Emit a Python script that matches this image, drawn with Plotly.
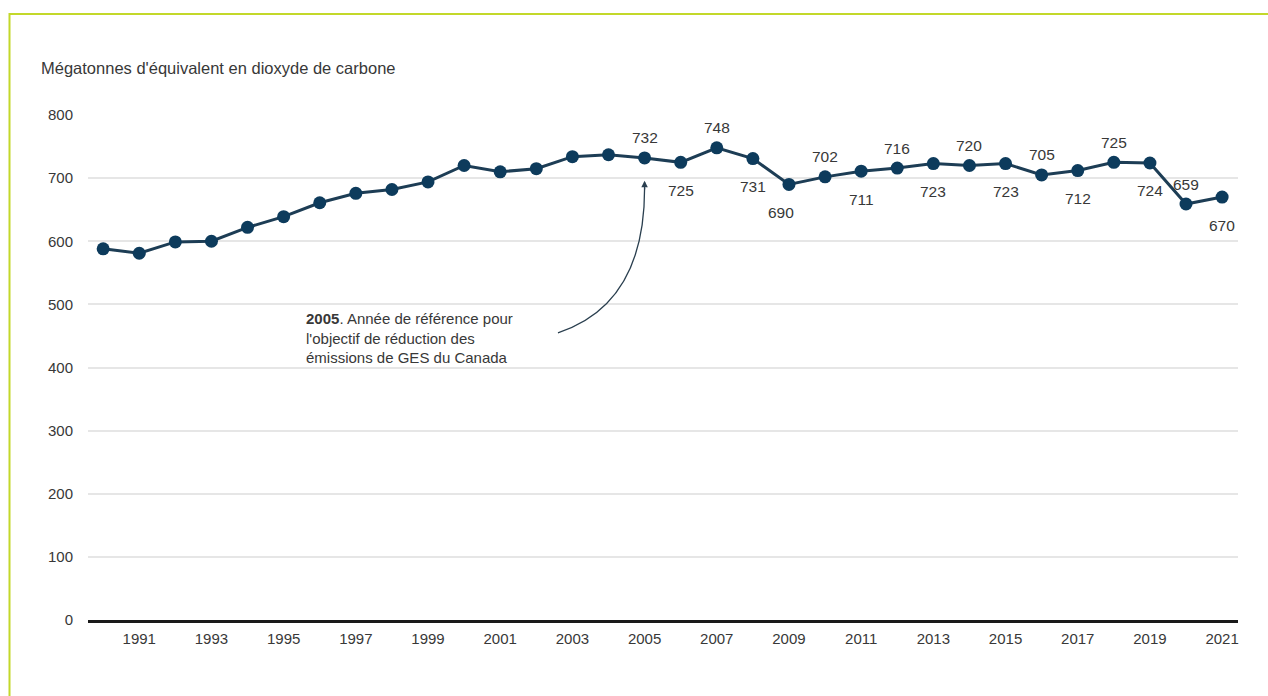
import plotly.graph_objects as go

# Canadian greenhouse gas emissions, Mt CO2 eq.
years = list(range(1990, 2022))
emissions = [588, 581, 599, 600, 622, 639, 661, 676, 682, 694,
             720, 710, 715, 734, 737, 732, 725, 748, 731, 690,
             702, 711, 716, 723, 720, 723, 705, 712, 725, 724,
             659, 670]

# Years from 2005 onward get a value label; side of the point for each label
labelled_from = 2005
label_side = ["above", "below", "above", "below", "below",
              "above", "below", "above", "below", "above",
              "below", "above", "below", "above", "below",
              "above", "below"]

tick_years = years[1::2]
y_ticks = [0, 100, 200, 300, 400, 500, 600, 700, 800]

FONT = "Liberation Sans, Arial, sans-serif"
TEXT = "#383838"
NAVY = "#0d3b5c"
LINE = "#1d3d55"
BORDER = "#c3d82a"

W, H = 1268, 696
ML, MR, MT, MB = 88, 30, 115, 76
PW, PH = W - ML - MR, H - MT - MB


def px(xp):
    return (xp - ML) / PW


def py(yp):
    return (H - MB - yp) / PH


fig = go.Figure()
fig.add_trace(go.Scatter(
    x=years, y=emissions, mode="lines+markers",
    line=dict(color=LINE, width=3),
    marker=dict(color=NAVY, size=13),
    hoverinfo="x+y", showlegend=False,
))

annotations = []
lab_years = [y for y in years if y >= labelled_from]
for yr, side in zip(lab_years, label_side):
    v = emissions[years.index(yr)]
    annotations.append(dict(
        x=yr, y=v, xref="x", yref="y", text=str(v), showarrow=False,
        yshift=20 if side == "above" else -28,
        xshift=-8 if yr == 2009 else 0,
        font=dict(family=FONT, size=15.5, color=TEXT),
    ))

# Axis title above the value axis
annotations.append(dict(
    x=px(39), y=py(68), xref="paper", yref="paper", xanchor="left",
    yanchor="middle", showarrow=False,
    text="Mégatonnes d'équivalent en dioxyde de carbone",
    font=dict(family=FONT, size=16.5, color=TEXT),
))

# Callout for the reference year
ref_val = emissions[years.index(2005)]
tip_y = ref_val - 36
annotations.append(dict(
    x=px(304), y=py(308), xref="paper", yref="paper", xanchor="left",
    yanchor="top", align="left", showarrow=False,
    text="<b>2005</b>. Année de référence pour<br>l'objectif de réduction des"
         "<br>émissions de GES du Canada",
    font=dict(family=FONT, size=15, color=TEXT),
))
annotations.append(dict(
    x=2005, y=tip_y, xref="x", yref="y", ax=0, ay=10,
    showarrow=True, arrowhead=2, arrowsize=1, arrowwidth=1.3,
    arrowcolor="#2a3f4f", text="",
))

shapes = [
    # curved leader line from the callout text up to 2005
    dict(type="path", xref="x", yref="y",
         path=f"M 2002.6,455 Q 2005,500 2005,{tip_y - 12}",
         line=dict(color="#2a3f4f", width=1.3)),
    # page frame
    dict(type="line", xref="paper", yref="paper",
         x0=px(9.5), x1=px(1275), y0=py(14), y1=py(14),
         line=dict(color=BORDER, width=2)),
    dict(type="line", xref="paper", yref="paper",
         x0=px(9.5), x1=px(9.5), y0=py(13), y1=py(700),
         line=dict(color=BORDER, width=2)),
]

fig.update_layout(
    width=W, height=H,
    margin=dict(l=ML, r=MR, t=MT, b=MB),
    paper_bgcolor="white", plot_bgcolor="white",
    font=dict(family=FONT, size=15, color=TEXT),
    annotations=annotations, shapes=shapes,
    xaxis=dict(
        range=[1989.58, 2021.44], tickvals=tick_years,
        ticktext=[str(y) for y in tick_years],
        showgrid=False, zeroline=False,
        showline=True, linecolor="#1a1a1a", linewidth=3,
        ticks="", ticklabelstandoff=3,
        tickfont=dict(family=FONT, size=15, color=TEXT),
    ),
    yaxis=dict(
        range=[0, 800], tickvals=y_ticks,
        showgrid=True, gridcolor="#e6e6e6", gridwidth=1.5,
        zeroline=False, showline=False, ticks="",
        ticklabelstandoff=14,
        tickfont=dict(family=FONT, size=15, color=TEXT),
    ),
)

fig.write_html("out.html")
